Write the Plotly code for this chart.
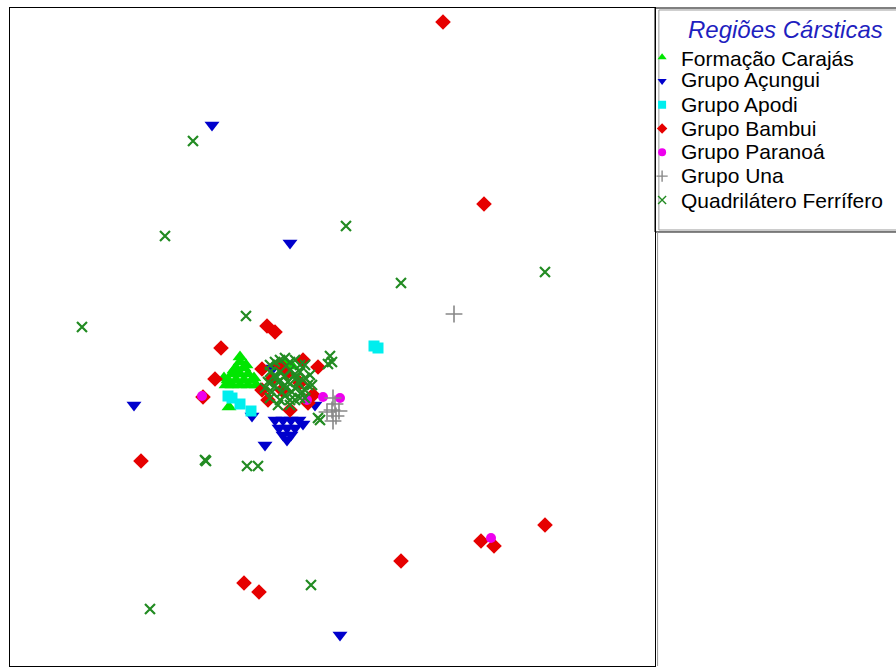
import plotly.graph_objects as go

# NMDS scores per karst region (axis 1, axis 2)
carajas_x = [-0.25, -0.27, -0.23, -0.29, -0.25, -0.21, -0.31, -0.27, -0.23, -0.19, -0.29, -0.25, -0.21, -0.305, -0.025, 0.01,
             -0.32, -0.17, -0.28, -0.22, -0.25, -0.33, -0.18]
carajas_y = [0.14, 0.11, 0.11, 0.08, 0.08, 0.08, 0.05, 0.05, 0.05, 0.05, 0.025, 0.025, 0.025, -0.085, 0.14, 0.12,
             0.025, 0.025, 0.10, 0.125, 0.165, 0.06, 0.06]

acungui_x = [-0.39, 0.0, -0.78, -0.19, -0.125, 0.25, -0.085, 0.125,
             -0.075, -0.035, 0.005, 0.045, -0.055, -0.015, 0.025, -0.035, 0.005, -0.015, 0.065]
acungui_y = [1.325, 0.735, -0.075, -0.13, -0.275, -1.225, 0.11, -0.075,
             -0.15, -0.15, -0.15, -0.15, -0.19, -0.19, -0.19, -0.225, -0.225, -0.25, -0.17]

apodi_x = [0.42, 0.44, -0.29, -0.25, -0.195, -0.31]
apodi_y = [0.22, 0.21, -0.04, -0.07, -0.105, -0.03]

bambui_x = [0.765, 0.97, -0.115, -0.075, -0.345, -0.375, -0.435, -0.745, 1.275, 0.955, 1.02, 0.555, -0.23, -0.155,
            -0.14, -0.09, -0.14, -0.11, -0.05, -0.015, 0.065, 0.14, 0.115, 0.0, -0.04, 0.05, 0.09]
bambui_y = [1.84, 0.93, 0.32, 0.29, 0.21, 0.055, -0.035, -0.355, -0.675, -0.755, -0.78, -0.855, -0.965, -1.01,
            0.105, 0.055, 0.0, -0.05, 0.125, 0.085, 0.15, 0.115, -0.025, -0.10, 0.0, 0.035, -0.065]

paranoa_x = [-0.44, 0.165, 0.25, 1.005, 0.085]
paranoa_y = [-0.03, -0.035, -0.04, -0.74, -0.05]

una_x = [0.82, 0.215, 0.225, 0.21, 0.23, 0.215, 0.185, 0.245]
una_y = [0.38, -0.04, -0.07, -0.10, -0.13, -0.155, -0.11, -0.105]

quadri_x = [-0.485, 0.28, -0.625, 1.275, 0.555, -1.04, -0.22, 0.20, 0.21, 0.19, 0.14, 0.15, -0.425, -0.42,
            -0.215, -0.16, 0.105, -0.70,
            -0.075, -0.025, 0.025, 0.075, -0.10, -0.05, 0.0, 0.05, 0.10, -0.11, -0.06, -0.01, 0.04, 0.09,
            -0.09, -0.04, 0.01, 0.06, -0.05, 0.0, 0.05, -0.02, 0.03, -0.07,
            -0.10, -0.05, 0.0, 0.05, -0.075, -0.025, 0.025, 0.075, -0.125, -0.075, -0.025, 0.025, 0.075,
            -0.10, -0.025, 0.025, 0.075, 0.0, -0.06, 0.11]
quadri_y = [1.245, 0.82, 0.77, 0.59, 0.535, 0.315, 0.37, 0.17, 0.14, 0.13, -0.14, -0.15, -0.35, -0.355,
            -0.38, -0.38, -0.975, -1.095,
            0.14, 0.16, 0.15, 0.125, 0.09, 0.09, 0.10, 0.09, 0.075, 0.04, 0.04, 0.04, 0.04, 0.025,
            -0.01, -0.01, -0.01, -0.01, -0.05, -0.05, -0.04, 0.01, 0.06, 0.06,
            0.125, 0.15, 0.14, 0.125, 0.075, 0.07, 0.08, 0.06, 0.01, 0.02, 0.025, 0.01, 0.0,
            -0.04, -0.03, -0.05, -0.04, -0.075, -0.075, 0.025]

legend_title = "Regiões Cársticas"

groups = [
    ("Formação Carajás", carajas_x, carajas_y, "triangle-up", "#00e600", 13, None),
    ("Grupo Açungui", acungui_x, acungui_y, "triangle-down", "#0000cc", 13, None),
    ("Grupo Apodi", apodi_x, apodi_y, "square", "#00eeee", 11, None),
    ("Grupo Bambui", bambui_x, bambui_y, "diamond", "#e60000", 12, None),
    ("Grupo Paranoá", paranoa_x, paranoa_y, "circle", "#ee00ee", 10, None),
    ("Grupo Una", una_x, una_y, "cross-thin", "#888888", 12, 1.6),
    ("Quadrilátero Ferrífero", quadri_x, quadri_y, "x-thin", "#228b22", 10, 2.2),
]

fig = go.Figure()

# scatter points
for name, xs, ys, sym, col, size, lw in groups:
    marker = dict(symbol=sym, size=size, color=col)
    marker["line"] = dict(color=col, width=lw) if lw else dict(width=0)
    fig.add_trace(go.Scatter(x=xs, y=ys, mode="markers", marker=marker,
                             name=name, showlegend=False, hoverinfo="skip"))

# legend symbols (labels are written alongside as annotations)
for name, xs, ys, sym, col, size, lw in groups:
    marker = dict(symbol=sym, size=8, color=col)
    marker["line"] = dict(color=col, width=1.4) if lw else dict(width=0)
    fig.add_trace(go.Scatter(x=[None], y=[None], mode="markers", marker=marker,
                             name=" ", showlegend=True))

# legend labels
label_y = [0.9240, 0.8906, 0.8541, 0.8176, 0.7812, 0.7447, 0.7067]
for (name, *_), yy in zip(groups, label_y):
    fig.add_annotation(xref="paper", yref="paper", x=1.0375, y=yy, xanchor="left", yanchor="middle",
                       text=name, showarrow=False,
                       font=dict(family="Arial, Liberation Sans, sans-serif", size=21, color="black"))
fig.add_annotation(xref="paper", yref="paper", x=1.2016, y=0.9666, xanchor="center", yanchor="middle",
                   text="<i>" + legend_title + "</i>", showarrow=False,
                   font=dict(family="Arial, Liberation Sans, sans-serif", size=24, color="#1f1fbf"))

# frame around the legend area
fig.add_shape(type="rect", xref="paper", yref="paper", x0=1.0, x1=1.38, y0=0.6596, y1=1.0,
              line=dict(color="black", width=1))
fig.add_shape(type="rect", xref="paper", yref="paper", x0=1.006, x1=1.38, y0=0.6626, y1=0.997,
              line=dict(color="#999999", width=1))
fig.add_shape(type="line", xref="paper", yref="paper", x0=1.004, x1=1.004, y0=0.0, y1=0.6596,
              line=dict(color="#999999", width=1))

axis_common = dict(showgrid=False, zeroline=False, showticklabels=False, ticks="",
                   showline=True, mirror=True, linecolor="black", linewidth=1)

fig.update_layout(
    width=896, height=667,
    margin=dict(l=10, r=241, t=8, b=1),
    paper_bgcolor="white", plot_bgcolor="white",
    xaxis=dict(range=[-1.40, 1.825], **axis_common),
    yaxis=dict(range=[-1.38, 1.91], **axis_common),
    font=dict(family="Arial, Liberation Sans, sans-serif", color="black"),
    legend=dict(
        x=0.98, y=0.951, xanchor="left", yanchor="top",
        bgcolor="rgba(0,0,0,0)", borderwidth=0,
        font=dict(size=16, color="black"),
        itemsizing="trace", tracegroupgap=0,
    ),
    showlegend=True,
)

fig.write_html("out.html")
